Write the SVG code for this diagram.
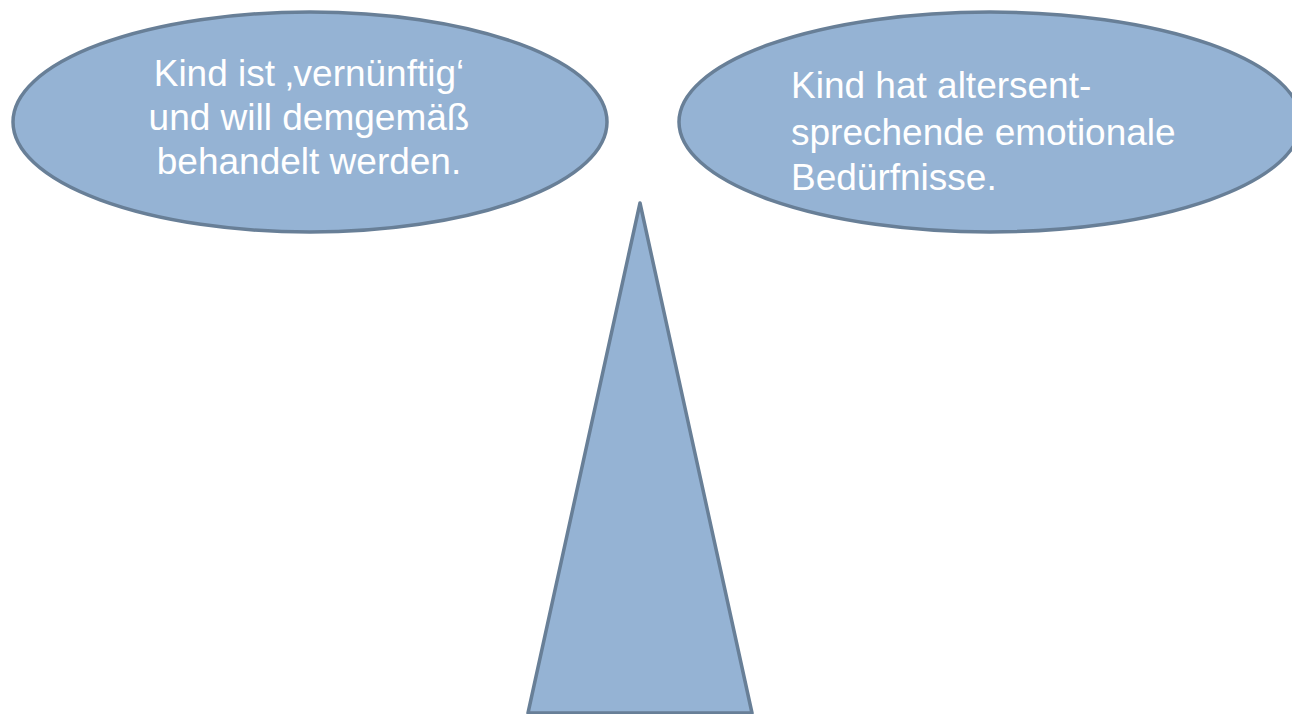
<svg xmlns="http://www.w3.org/2000/svg" width="1292" height="714" viewBox="0 0 1292 714">
<style>
.shape{fill:#95B3D4;stroke:#687F97;stroke-width:3.5;stroke-linejoin:round}
.t{font-family:"Liberation Sans",Arial,sans-serif;font-size:37px;fill:#FFFFFF}
</style>
<rect width="1292" height="714" fill="#FFFFFF"/>
<g id="left-ellipse">
<ellipse class="shape" cx="310" cy="122" rx="297" ry="110"/>
<text class="t" text-anchor="middle" x="309" y="86">Kind ist ‚vernünftig‘</text>
<text class="t" text-anchor="middle" x="309" y="130">und will demgemäß</text>
<text class="t" text-anchor="middle" x="309" y="174">behandelt werden.</text>
</g>
<g id="right-ellipse">
<ellipse class="shape" cx="990" cy="122" rx="311" ry="110"/>
<text class="t" x="791" y="98">Kind hat altersent-</text>
<text class="t" x="791" y="145">sprechende emotionale</text>
<text class="t" x="791" y="190">Bedürfnisse.</text>
</g>
<g id="triangle">
<polygon class="shape" points="640,203 752,713 528,713"/>
</g>
<g id="connectors"></g>
</svg>
